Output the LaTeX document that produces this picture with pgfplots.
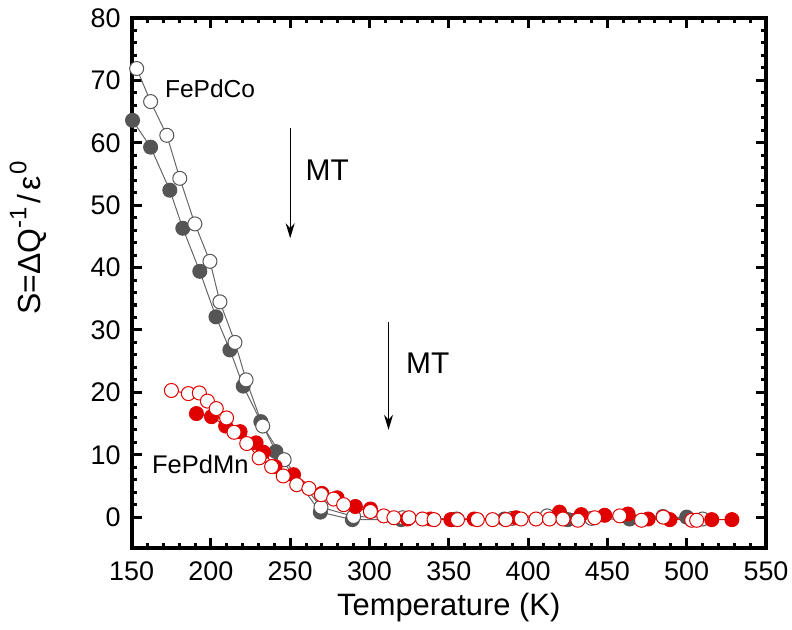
\documentclass[border=0pt]{standalone}
\usepackage{pgfplots}
\pgfplotsset{compat=1.18}
\usepackage{fontspec}
\setmainfont{Liberation Sans}
\usetikzlibrary{arrows.meta}
\definecolor{cogray}{HTML}{555555}
\definecolor{colinegray}{HTML}{666666}
\definecolor{mnred}{HTML}{E00000}
\begin{document}
\begin{tikzpicture}
\begin{axis}[
  scale only axis, width=317bp, height=265bp,
  xmin=150, xmax=550, ymin=-5, ymax=80,
  xtick={150,200,...,550}, ytick={0,10,...,80},
  minor x tick num=4, minor y tick num=4,
  tick align=inside,
  major tick length=5bp, minor tick length=2.5bp,
  every tick/.style={line width=1.5bp, black},
  axis line style={line width=2bp},
  /pgf/number format/assume math mode=true,
  tick label style={font=\fontsize{13.5}{15}\selectfont},
  xticklabel style={yshift=-4.5bp, inner sep=2bp},
  yticklabel style={xshift=-2bp},
  xlabel={Temperature (K)},
  xlabel style={font=\fontsize{15.5}{17}\selectfont, inner sep=0pt, at={(axis description cs:0.5,0)}, anchor=north, yshift=-22bp},
  ylabel={S=ΔQ\raisebox{0.45em}{\fontsize{12}{12}\selectfont -1}\hspace{2bp}/\hspace{2bp}ε\hspace{1bp}\raisebox{0.45em}{\fontsize{12}{12}\selectfont 0}},
  ylabel style={font=\fontsize{16}{18}\selectfont, inner sep=0pt, at={(axis description cs:-0.133,0.44)}, anchor=south west},
  clip=false,
]
% FePdCo filled
\addplot[colinegray, line width=0.5bp, mark=*, mark size=3.5bp,
  mark options={fill=cogray, draw=cogray, line width=0.5bp}] coordinates {
(150.6,63.6) (162.0,59.3) (174.1,52.4) (182.3,46.3) (193.0,39.4) (203.2,32.1)
(212.0,26.8) (220.4,21.0) (231.5,15.3) (241.0,10.5) (269.0,0.8) (289.2,-0.4)
(320.0,-0.4) (352.0,-0.4) (385.0,-0.3) (425.0,-0.4) (464.0,-0.3) (500.0,0.0)
};
% FePdCo open
\addplot[colinegray, line width=0.5bp, mark=*, mark size=3.5bp,
  mark options={fill=white, draw=cogray, line width=0.5bp}] coordinates {
(153.2,71.9) (162.0,66.6) (172.2,61.2) (180.4,54.3) (189.9,47.0) (199.4,41.0)
(205.7,34.5) (215.2,28.0) (222.2,22.0) (232.7,14.6) (246.2,9.2) (269.4,1.6)
(290.0,0.1) (321.0,-0.1) (355.0,-0.3) (390.0,-0.2) (412.0,0.2) (440.0,-0.2)
(485.0,0.1) (510.0,-0.3)
};
% FePdMn filled
\addplot[mnred, line width=0.5bp, mark=*, mark size=3.5bp,
  mark options={fill=mnred, draw=mnred, line width=0.5bp}] coordinates {
(190.9,16.6) (200.4,16.1) (209.3,14.6) (218.4,13.7) (228.5,11.9) (233.1,10.4)
(240.5,8.1) (252.1,6.8) (270.0,3.8) (279.6,3.1) (291.1,1.7) (300.6,1.3)
(323.9,-0.3) (338.6,-0.3) (351.3,-0.4) (366.0,-0.3) (392.4,-0.1) (419.8,0.8)
(433.5,0.4) (448.3,0.3) (463.0,0.5) (475.7,-0.3) (489.4,-0.4) (515.8,-0.4)
(528.5,-0.4)
};
% FePdMn open
\addplot[mnred, line width=0.5bp, mark=*, mark size=3.5bp,
  mark options={fill=white, draw=mnred, line width=0.5bp}] coordinates {
(175.1,20.3) (185.8,19.8) (192.7,19.9) (197.8,18.6) (203.4,17.4) (209.9,15.9)
(214.6,13.6) (222.6,11.8) (230.4,9.5) (238.3,8.1) (245.6,6.6) (254.1,5.2)
(261.8,4.6) (269.6,3.6) (277.4,2.9) (283.7,2.0) (300.6,0.9) (309.0,0.2)
(315.4,-0.1) (324.9,-0.1) (333.4,-0.3) (340.7,-0.4) (355.5,-0.4) (368.0,-0.4)
(377.6,-0.4) (386.0,-0.4) (395.6,-0.3) (405.0,-0.3) (413.5,-0.3) (422.0,-0.3)
(431.4,-0.5) (442.0,-0.1) (457.8,0.2) (471.5,-0.5) (485.2,0.0) (503.2,-0.5)
(506.3,-0.5)
};
\draw[line width=0.5bp, -{Stealth[length=7.5bp, width=4.5bp]}] (axis cs:250,62.3) -- (axis cs:250,44.7);
\draw[line width=0.5bp, -{Stealth[length=7.5bp, width=4.5bp]}] (axis cs:312,31.2) -- (axis cs:312,14.0);
\node[anchor=center, font=\fontsize{15}{17}\selectfont] at (axis cs:273.4,55.6) {MT};
\node[anchor=center, font=\fontsize{15}{17}\selectfont] at (axis cs:336.7,24.7) {MT};
\node[anchor=west, inner sep=0pt, font=\fontsize{12.3}{14}\selectfont] at (axis cs:170.9,68.7) {FePdCo};
\node[anchor=west, inner sep=0pt, font=\fontsize{12.8}{14}\selectfont] at (axis cs:162.7,8.4) {FePdMn};
\end{axis}
\pgfresetboundingbox
\useasboundingbox (current axis.south west) ++(-65.75bp,-40.5bp) rectangle ([shift={(13bp,9bp)}]current axis.north east);
\end{tikzpicture}
\end{document}
